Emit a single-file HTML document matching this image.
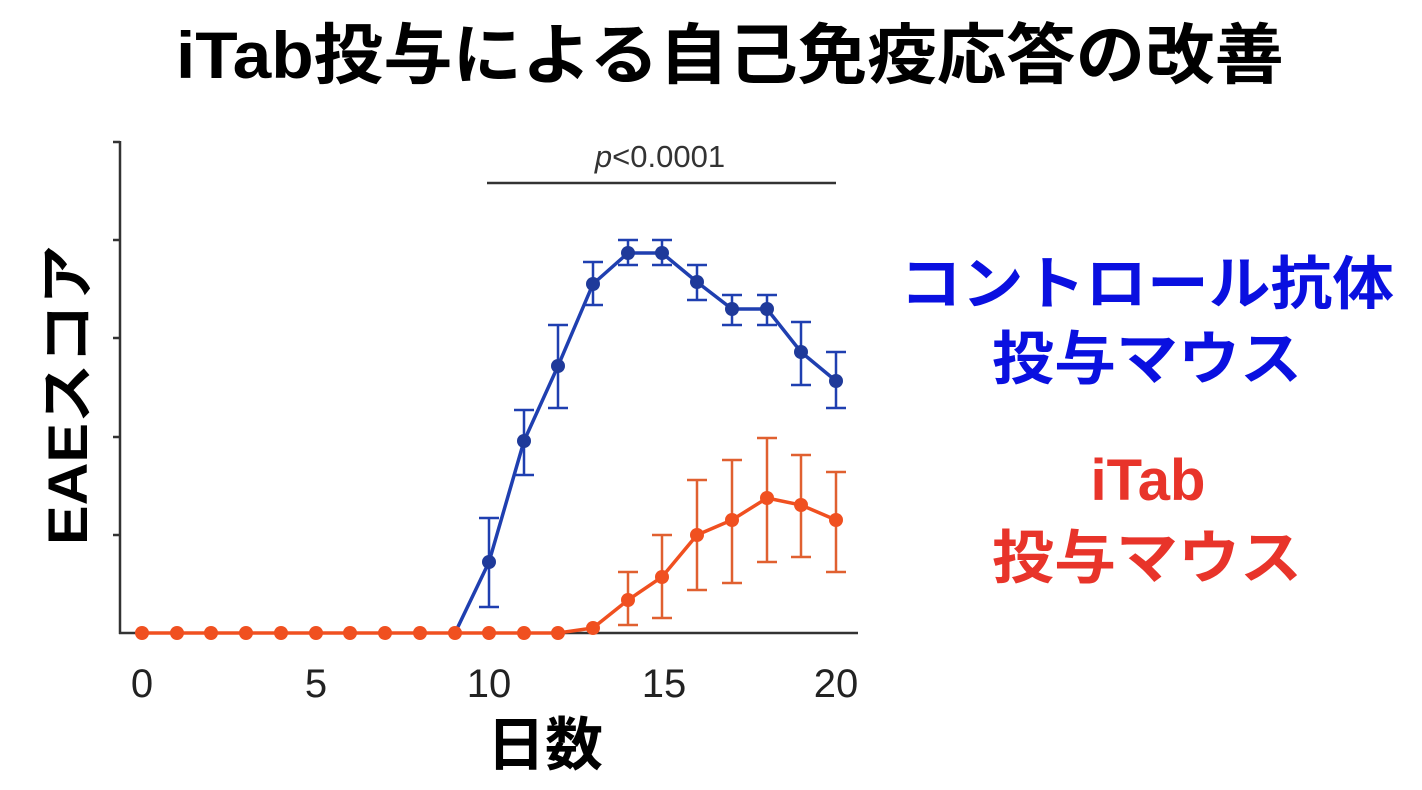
<!DOCTYPE html>
<html><head><meta charset="utf-8"><style>
body{margin:0;background:#fff;width:1422px;height:790px;overflow:hidden;}
svg{display:block}
</style></head><body>
<svg width="1422" height="790" xmlns="http://www.w3.org/2000/svg" font-family="Liberation Sans, Noto Sans CJK JP, sans-serif">
<text x="176" y="78" textLength="1108" lengthAdjust="spacingAndGlyphs" font-size="66" font-weight="bold" fill="#000">iTab投与による自己免疫応答の改善</text>
<g stroke="#333" stroke-width="2.5" fill="none">
<line x1="120" y1="141" x2="120" y2="634"/>
<line x1="119" y1="633" x2="858" y2="633"/>
<line x1="113" y1="142" x2="120" y2="142"/>
<line x1="113" y1="240" x2="120" y2="240"/>
<line x1="113" y1="338" x2="120" y2="338"/>
<line x1="113" y1="437" x2="120" y2="437"/>
<line x1="113" y1="535" x2="120" y2="535"/>
<line x1="487" y1="183" x2="836" y2="183"/>
</g>
<text x="660" y="167" text-anchor="middle" font-size="31" fill="#333"><tspan font-style="italic">p</tspan>&lt;0.0001</text>
<g font-size="40" fill="#222" text-anchor="middle">
<text x="142" y="697">0</text><text x="316" y="697">5</text><text x="489" y="697">10</text><text x="664" y="697">15</text><text x="836" y="697">20</text>
</g>
<text x="545" y="765" text-anchor="middle" font-size="58" font-weight="bold">日数</text>
<text transform="translate(87,395) rotate(-90)" text-anchor="middle" font-size="56" font-weight="bold" textLength="300" lengthAdjust="spacingAndGlyphs">EAEスコア</text>
<g stroke="#1f3fb0" stroke-width="3.5" fill="none">
<polyline points="455,633 489,562 524,441 558,366 593,284 628,253 662,253 697,282 732,309 767,309 801,352 836,381"/>
</g>
<g stroke="#1f3fb0" stroke-width="2.5">
<path d="M489,518V607M479,518H499M479,607H499"/>
<path d="M524,410V475M514,410H534M514,475H534"/>
<path d="M558,325V408M548,325H568M548,408H568"/>
<path d="M593,262V305M583,262H603M583,305H603"/>
<path d="M628,240V265M618,240H638M618,265H638"/>
<path d="M662,240V265M652,240H672M652,265H672"/>
<path d="M697,265V300M687,265H707M687,300H707"/>
<path d="M732,295V325M722,295H742M722,325H742"/>
<path d="M767,295V325M757,295H777M757,325H777"/>
<path d="M801,322V385M791,322H811M791,385H811"/>
<path d="M836,352V408M826,352H846M826,408H846"/>
</g>
<g fill="#1f3a9a">
<circle cx="489" cy="562" r="7"/><circle cx="524" cy="441" r="7"/><circle cx="558" cy="366" r="7"/><circle cx="593" cy="284" r="7"/><circle cx="628" cy="253" r="7"/><circle cx="662" cy="253" r="7"/><circle cx="697" cy="282" r="7"/><circle cx="732" cy="309" r="7"/><circle cx="767" cy="309" r="7"/><circle cx="801" cy="352" r="7"/><circle cx="836" cy="381" r="7"/>
</g>
<g stroke="#e06030" stroke-width="2.5">
<path d="M628,572V625M618,572H638M618,625H638"/>
<path d="M662,535V618M652,535H672M652,618H672"/>
<path d="M697,480V590M687,480H707M687,590H707"/>
<path d="M732,460V583M722,460H742M722,583H742"/>
<path d="M767,438V562M757,438H777M757,562H777"/>
<path d="M801,455V557M791,455H811M791,557H811"/>
<path d="M836,472V572M826,472H846M826,572H846"/>
</g>
<polyline points="142,633 558,633 593,628 628,600 662,577 697,535 732,520 767,498 801,505 836,520" stroke="#f05020" stroke-width="3.5" fill="none"/>
<g fill="#f05020">
<circle cx="142" cy="633" r="7"/><circle cx="177" cy="633" r="7"/><circle cx="211" cy="633" r="7"/><circle cx="246" cy="633" r="7"/><circle cx="281" cy="633" r="7"/><circle cx="316" cy="633" r="7"/><circle cx="350" cy="633" r="7"/><circle cx="385" cy="633" r="7"/><circle cx="420" cy="633" r="7"/><circle cx="455" cy="633" r="7"/><circle cx="489" cy="633" r="7"/><circle cx="524" cy="633" r="7"/><circle cx="558" cy="633" r="7"/><circle cx="593" cy="628" r="7"/><circle cx="628" cy="600" r="7"/><circle cx="662" cy="577" r="7"/><circle cx="697" cy="535" r="7"/><circle cx="732" cy="520" r="7"/><circle cx="767" cy="498" r="7"/><circle cx="801" cy="505" r="7"/><circle cx="836" cy="520" r="7"/>
</g>
<g font-size="58" font-weight="bold">
<text x="900" y="304" textLength="494" lengthAdjust="spacingAndGlyphs" fill="#0a10e0">コントロール抗体</text>
<text x="992" y="379" textLength="310" lengthAdjust="spacingAndGlyphs" fill="#0a10e0">投与マウス</text>
<text x="1148" y="500" text-anchor="middle" fill="#e8342a">iTab</text>
<text x="992" y="578" textLength="310" lengthAdjust="spacingAndGlyphs" fill="#e8342a">投与マウス</text>
</g>
</svg>
</body></html>
